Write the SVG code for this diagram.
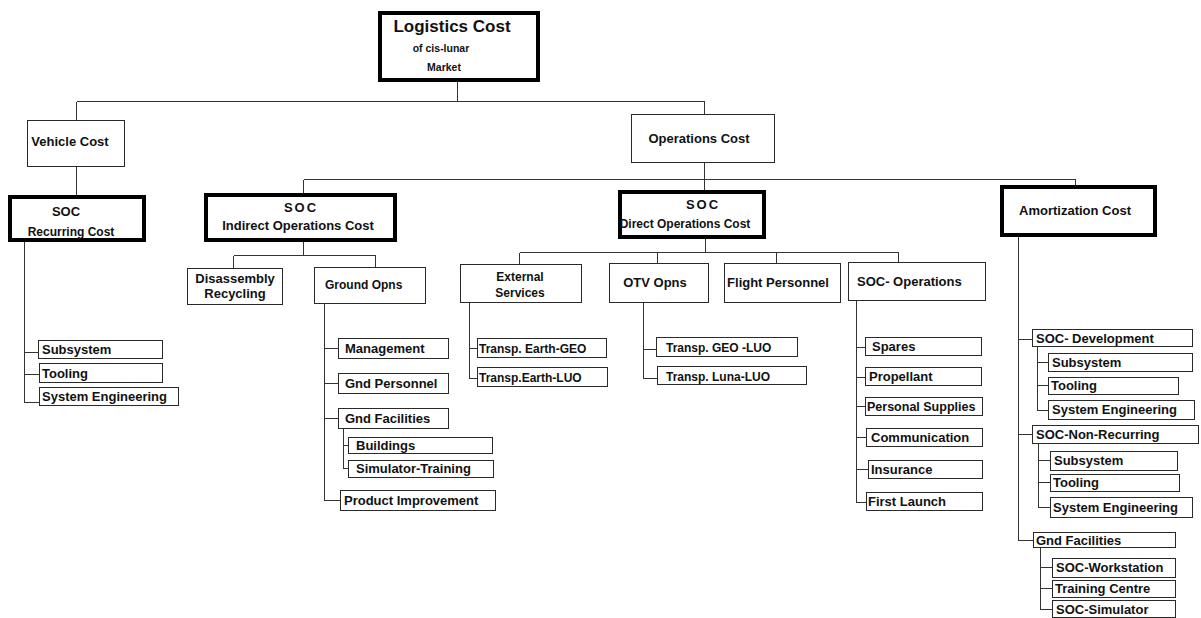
<svg xmlns="http://www.w3.org/2000/svg" width="1201" height="618" viewBox="0 0 1201 618">
  <style>
    .bg { fill: #ffffff; }
    .box { fill: #ffffff; stroke: #2a2a2a; stroke-width: 1; shape-rendering: crispEdges; }
    .thick { fill: #ffffff; stroke: #000000; stroke-width: 4; }
    .conn { fill: none; stroke: #333333; stroke-width: 1; shape-rendering: crispEdges; }
    text { font-family: "Liberation Sans", Arial, sans-serif; font-weight: bold; fill: #111111; }
    .c { text-anchor: middle; }
    .h1 { font-size: 17px; }
    .sm { font-size: 10.5px; }
    .m { font-size: 13px; }
    .l { font-size: 12px; }
    .lf { font-size: 13px; }
    .sp { letter-spacing: 2px; }
  </style>
  <rect class="bg" x="0" y="0" width="1201" height="618"/>

  <!-- connectors -->
  <g id="connectors">
    <!-- top level -->
    <path class="conn" d="M457.5 82 V101.5 M76.5 101.5 H704.5 M76.5 101.5 V120 M704.5 101.5 V114"/>
    <!-- vehicle branch -->
    <path class="conn" d="M76.5 167 V195"/>
    <path class="conn" d="M24.5 242 V402.5 H39 M24.5 352.5 H38 M24.5 374.5 H39"/>
    <!-- operations branch -->
    <path class="conn" d="M704.5 163 V190 M303.5 179.5 H1075.5 M303.5 179.5 V193 M1075.5 179.5 V185"/>
    <!-- indirect operations -->
    <path class="conn" d="M303.5 242 V255.5 M233.5 255.5 H375.5 M233.5 255.5 V268 M375.5 255.5 V267"/>
    <path class="conn" d="M324.5 303 V500.5 H340 M324.5 348.5 H338 M324.5 383.5 H338 M324.5 418.5 H338"/>
    <path class="conn" d="M343.5 428 V468.5 H348 M343.5 445.5 H348"/>
    <!-- direct operations -->
    <path class="conn" d="M705.5 239 V252.5 M519.5 252.5 H898.5 M519.5 252.5 V264 M657.5 252.5 V263 M776.5 252.5 V263 M898.5 252.5 V262"/>
    <path class="conn" d="M469.5 302 V378.5 H477 M469.5 348.5 H477"/>
    <path class="conn" d="M643.5 302 V378.5 H657 M643.5 349.5 H656"/>
    <path class="conn" d="M856.5 300 V502.5 H866 M856.5 347.5 H865 M856.5 377.5 H865 M856.5 406.5 H865 M856.5 437.5 H866 M856.5 469.5 H868"/>
    <!-- amortization -->
    <path class="conn" d="M1018.5 237 V540.5 H1033 M1018.5 339.5 H1032 M1018.5 434.5 H1032"/>
    <path class="conn" d="M1037.5 346 V410.5 H1048 M1037.5 362.5 H1048 M1037.5 385.5 H1048"/>
    <path class="conn" d="M1038.5 443 V507.5 H1050 M1038.5 460.5 H1050 M1038.5 482.5 H1050"/>
    <path class="conn" d="M1040.5 547 V609.5 H1052 M1040.5 567.5 H1052 M1040.5 588.5 H1052"/>
  </g>

  <!-- root -->
  <g id="logistics-cost">
    <rect class="thick" x="380" y="13" width="158" height="67"/>
    <text class="h1 c" x="452" y="32">Logistics Cost</text>
    <text class="sm c" x="441" y="52">of cis-lunar</text>
    <text class="sm c" x="444" y="71">Market</text>
  </g>

  <!-- level 1 -->
  <g id="vehicle-cost">
    <rect class="box" x="27.5" y="120.5" width="97" height="46"/>
    <text class="m c" x="70" y="146">Vehicle Cost</text>
  </g>
  <g id="operations-cost">
    <rect class="box" x="631.5" y="114.5" width="143" height="48"/>
    <text class="m c" x="699" y="143">Operations Cost</text>
  </g>

  <!-- level 2 -->
  <g id="soc-recurring-cost">
    <rect class="thick" x="10" y="197" width="134" height="43"/>
    <text class="m c" x="66" y="216">SOC</text>
    <text class="l c" x="71" y="236">Recurring Cost</text>
  </g>
  <g id="soc-indirect-operations-cost">
    <rect class="thick" x="206" y="195" width="189" height="45"/>
    <text class="m c sp" x="301" y="212">SOC</text>
    <text class="m c" x="298" y="230">Indirect Operations Cost</text>
  </g>
  <g id="soc-direct-operations-cost">
    <rect class="thick" x="620" y="192" width="144" height="45"/>
    <text class="m c sp" x="703" y="209">SOC</text>
    <text class="l c" x="685" y="228">Direct Operations Cost</text>
  </g>
  <g id="amortization-cost">
    <rect class="thick" x="1002" y="187" width="153" height="48"/>
    <text class="m c" x="1075" y="215">Amortization Cost</text>
  </g>

  <!-- vehicle leaves -->
  <g id="veh-subsystem"><rect class="box" x="38.5" y="340.5" width="124" height="18"/><text class="lf" x="42" y="354">Subsystem</text></g>
  <g id="veh-tooling"><rect class="box" x="39.5" y="363.5" width="123" height="19"/><text class="lf" x="42" y="378">Tooling</text></g>
  <g id="veh-system-engineering"><rect class="box" x="39.5" y="387.5" width="139" height="18"/><text class="lf" x="42" y="401">System Engineering</text></g>

  <!-- indirect operations children -->
  <g id="disassembly-recycling">
    <rect class="box" x="187.5" y="268.5" width="95" height="36"/>
    <text class="lf c" x="235" y="283">Disassembly</text>
    <text class="lf c" x="235" y="298">Recycling</text>
  </g>
  <g id="ground-opns">
    <rect class="box" x="314.5" y="267.5" width="111" height="36"/>
    <text class="l" x="325" y="289">Ground Opns</text>
  </g>
  <g id="management"><rect class="box" x="338.5" y="338.5" width="110" height="20"/><text class="lf" x="345" y="353">Management</text></g>
  <g id="gnd-personnel"><rect class="box" x="338.5" y="373.5" width="110" height="20"/><text class="lf" x="345" y="388">Gnd Personnel</text></g>
  <g id="gnd-facilities"><rect class="box" x="338.5" y="408.5" width="110" height="20"/><text class="lf" x="345" y="423">Gnd Facilities</text></g>
  <g id="buildings"><rect class="box" x="348.5" y="437.5" width="144" height="16"/><text class="lf" x="356" y="450">Buildings</text></g>
  <g id="simulator-training"><rect class="box" x="348.5" y="460.5" width="145" height="17"/><text class="lf" x="356" y="473">Simulator-Training</text></g>
  <g id="product-improvement"><rect class="box" x="340.5" y="490.5" width="155" height="20"/><text class="lf" x="344" y="505">Product Improvement</text></g>

  <!-- direct operations children -->
  <g id="external-services">
    <rect class="box" x="460.5" y="264.5" width="121" height="38"/>
    <text class="l c" x="520" y="281">External</text>
    <text class="l c" x="520" y="297">Services</text>
  </g>
  <g id="otv-opns">
    <rect class="box" x="609.5" y="263.5" width="99" height="39"/>
    <text class="m c" x="655" y="287">OTV Opns</text>
  </g>
  <g id="flight-personnel">
    <rect class="box" x="724.5" y="263.5" width="116" height="39"/>
    <text class="lf c" x="778" y="287">Flight Personnel</text>
  </g>
  <g id="soc-operations">
    <rect class="box" x="848.5" y="262.5" width="137" height="38"/>
    <text class="lf" x="857" y="286">SOC- Operations</text>
  </g>

  <g id="transp-earth-geo"><rect class="box" x="477.5" y="338.5" width="129" height="19"/><text class="l" x="479" y="353">Transp. Earth-GEO</text></g>
  <g id="transp-earth-luo"><rect class="box" x="477.5" y="367.5" width="130" height="19"/><text class="l" x="479" y="382">Transp.Earth-LUO</text></g>
  <g id="transp-geo-luo"><rect class="box" x="656.5" y="337.5" width="141" height="19"/><text class="l" x="666" y="352">Transp. GEO -LUO</text></g>
  <g id="transp-luna-luo"><rect class="box" x="657.5" y="366.5" width="149" height="18"/><text class="l" x="666" y="381">Transp. Luna-LUO</text></g>

  <g id="spares"><rect class="box" x="865.5" y="337.5" width="116" height="18"/><text class="lf" x="872" y="351">Spares</text></g>
  <g id="propellant"><rect class="box" x="865.5" y="367.5" width="116" height="18"/><text class="lf" x="869" y="381">Propellant</text></g>
  <g id="personal-supplies"><rect class="box" x="865.5" y="397.5" width="117" height="18"/><text class="lf" x="867" y="411" style="font-size:12.5px">Personal Supplies</text></g>
  <g id="communication"><rect class="box" x="866.5" y="428.5" width="116" height="18"/><text class="lf" x="871" y="442">Communication</text></g>
  <g id="insurance"><rect class="box" x="868.5" y="460.5" width="114" height="18"/><text class="lf" x="871" y="474">Insurance</text></g>
  <g id="first-launch"><rect class="box" x="866.5" y="492.5" width="116" height="18"/><text class="lf" x="868" y="506">First Launch</text></g>

  <!-- amortization children -->
  <g id="soc-development"><rect class="box" x="1032.5" y="329.5" width="160" height="17"/><text class="lf" x="1036" y="343">SOC- Development</text></g>
  <g id="dev-subsystem"><rect class="box" x="1048.5" y="353.5" width="144" height="18"/><text class="lf" x="1052" y="367">Subsystem</text></g>
  <g id="dev-tooling"><rect class="box" x="1048.5" y="377.5" width="130" height="17"/><text class="lf" x="1051" y="390">Tooling</text></g>
  <g id="dev-system-engineering"><rect class="box" x="1048.5" y="400.5" width="146" height="19"/><text class="lf" x="1052" y="414">System Engineering</text></g>
  <g id="soc-non-recurring"><rect class="box" x="1032.5" y="425.5" width="166" height="18"/><text class="lf" x="1036" y="439">SOC-Non-Recurring</text></g>
  <g id="nr-subsystem"><rect class="box" x="1050.5" y="451.5" width="127" height="19"/><text class="lf" x="1054" y="465">Subsystem</text></g>
  <g id="nr-tooling"><rect class="box" x="1050.5" y="474.5" width="129" height="17"/><text class="lf" x="1053" y="487">Tooling</text></g>
  <g id="nr-system-engineering"><rect class="box" x="1050.5" y="497.5" width="142" height="20"/><text class="lf" x="1053" y="512">System Engineering</text></g>
  <g id="amort-gnd-facilities"><rect class="box" x="1033.5" y="532.5" width="142" height="15"/><text class="lf" x="1036" y="545">Gnd Facilities</text></g>
  <g id="soc-workstation"><rect class="box" x="1052.5" y="558.5" width="123" height="19"/><text class="lf" x="1056" y="572">SOC-Workstation</text></g>
  <g id="training-centre"><rect class="box" x="1052.5" y="580.5" width="123" height="17"/><text class="lf" x="1055" y="593">Training Centre</text></g>
  <g id="soc-simulator"><rect class="box" x="1052.5" y="600.5" width="123" height="17"/><text class="lf" x="1056" y="614">SOC-Simulator</text></g>
</svg>
